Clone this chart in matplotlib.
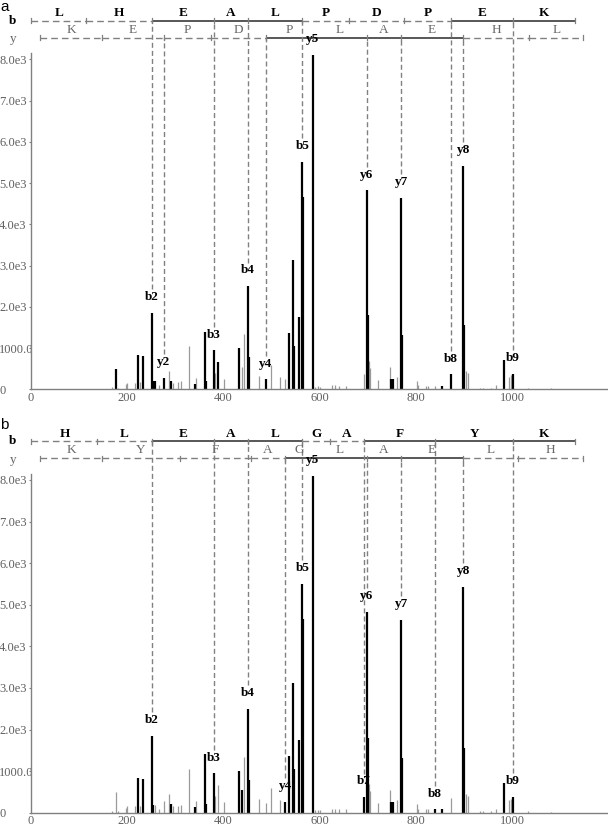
import numpy as np
import matplotlib.pyplot as plt

plt.rcParams['font.family'] = ['Liberation Serif', 'DejaVu Serif']

# one MS/MS spectrum, shown twice with two different peptide assignments
mz = [169.0, 177.6, 181.5, 197.0, 200.3, 215.5, 221.7, 226.6, 232.2, 251.15,
      253.2, 257.8, 266.0, 276.16, 287.0, 291.0, 294.6, 306.0, 311.9, 327.8,
      340.3, 342.4, 361.0, 363.2, 380.19, 382.5, 388.8, 401.2, 433.0, 438.7,
      442.2, 451.23, 452.6, 474.7, 488.24, 498.3, 517.7, 528.28, 535.7, 544.0,
      546.8, 557.2, 564.31, 566.1, 585.29, 591.0, 596.0, 600.0, 626.5, 632.0,
      640.3, 654.2, 692.37, 698.37, 699.6, 702.7, 704.8, 722.0, 747.0, 748.6,
      752.0, 760.3, 769.41, 770.9, 801.9, 805.2, 821.0, 826.0, 839.44, 855.0,
      873.45, 898.47, 899.9, 905.0, 907.9, 933.5, 940.4, 955.7, 966.7, 984.0,
      994.4, 997.3, 1002.49, 1032.7, 1081.0]
intensity = [50, 500, 40, 120, 160, 150, 825, 170, 800, 1850,
             190, 190, 100, 283, 450, 210, 150, 165, 190, 1040,
             135, 280, 1400, 200, 945, 390, 670, 250, 1000, 550,
             1330, 2500, 790, 320, 242, 595, 300, 255, 1360, 3130,
             1060, 1750, 5510, 4650, 8100, 60, 70, 60, 100, 100,
             80, 80, 372, 4824, 1800, 695, 525, 226, 550, 258,
             258, 300, 4638, 1317, 200, 100, 80, 80, 80, 80,
             364, 5422, 1560, 453, 390, 40, 40, 30, 100, 719,
             307, 340, 380, 30, 25]
# 1 = matched peak (drawn black) in panel a / panel b
matched_a = [0, 1, 0, 0, 0, 0, 1, 0, 1, 1,
             1, 1, 0, 1, 0, 1, 0, 0, 0, 0,
             1, 0, 1, 1, 1, 0, 1, 0, 1, 0,
             0, 1, 1, 0, 1, 0, 0, 0, 1, 1,
             1, 1, 1, 1, 1, 0, 0, 0, 0, 0,
             0, 0, 0, 1, 1, 0, 0, 0, 0, 1,
             1, 0, 1, 1, 0, 0, 0, 0, 0, 1,
             1, 1, 1, 0, 0, 0, 0, 0, 0, 1,
             0, 0, 1, 0, 0]
matched_b = [0, 0, 0, 0, 0, 0, 1, 0, 1, 1,
             1, 0, 0, 0, 0, 1, 0, 0, 0, 0,
             1, 0, 1, 1, 1, 0, 0, 0, 1, 1,
             0, 1, 1, 0, 0, 0, 0, 1, 1, 1,
             1, 1, 1, 1, 1, 0, 0, 0, 0, 0,
             0, 0, 1, 1, 1, 0, 0, 0, 0, 1,
             1, 0, 1, 1, 0, 0, 0, 0, 1, 1,
             0, 1, 1, 0, 0, 0, 0, 0, 0, 1,
             0, 0, 1, 0, 0]

# panel a: LHEALPDPEK
b_res_a = ['L', 'H', 'E', 'A', 'L', 'P', 'D', 'P', 'E', 'K']
b_ions_a = [1.01, 114.09, 251.15, 380.19, 451.23, 564.31, 661.37, 776.39, 873.45, 1002.49, 1130.58]
b_solid_a = [0, 0, 1, 1, 1, 0, 0, 0, 1, 1]
y_res_a = ['K', 'E', 'P', 'D', 'P', 'L', 'A', 'E', 'H', 'L']
y_ions_a = [19.02, 147.11, 276.16, 373.21, 488.24, 585.29, 698.37, 769.41, 898.45, 1035.51, 1148.59]
y_solid_a = [0, 0, 0, 0, 1, 1, 1, 1, 0, 0]
labels_a = ['b2', 'y2', 'b3', 'b4', 'y4', 'b5', 'y5', 'y6', 'y7', 'b8', 'y8', 'b9']
label_mz_a = [251.15, 276.16, 380.19, 451.23, 488.24, 564.31, 585.29, 698.37, 769.41, 873.45, 898.47, 1002.49]

# panel b: HLEALGAFYK
b_res_b = ['H', 'L', 'E', 'A', 'L', 'G', 'A', 'F', 'Y', 'K']
b_ions_b = [1.01, 138.07, 251.15, 380.19, 451.23, 564.31, 621.34, 692.37, 839.44, 1002.50, 1130.60]
b_solid_b = [0, 0, 1, 1, 1, 0, 0, 1, 1, 1]
y_res_b = ['K', 'Y', 'F', 'A', 'G', 'L', 'A', 'E', 'L', 'H']
y_ions_b = [19.02, 147.11, 310.18, 457.25, 528.28, 585.30, 698.39, 769.42, 898.47, 1011.55, 1148.61]
y_solid_b = [0, 0, 0, 0, 1, 1, 1, 1, 0, 0]
labels_b = ['b2', 'b3', 'b4', 'y4', 'b5', 'y5', 'b7', 'y6', 'y7', 'b8', 'y8', 'b9']
label_mz_b = [251.15, 380.19, 451.23, 528.28, 564.31, 585.29, 692.37, 698.37, 769.41, 839.44, 898.47, 1002.49]

ytick_vals = [0, 1000, 2000, 3000, 4000, 5000, 6000, 7000, 8000]
ytick_text = ['0', '1000.0', '2.0e3', '3.0e3', '4.0e3', '5.0e3', '6.0e3', '7.0e3', '8.0e3']
xtick_vals = [0, 200, 400, 600, 800, 1000]

GRAY = '#808080'
DARK = '#4a4a4a'
B_LINE, Y_LINE = 8935, 8523
B_TXT, Y_TXT = 9115, 8710


def draw_row(ax, ions, res, solid, ly, ty, color, weight):
    for i in range(len(res)):
        if solid[i]:
            ax.plot([ions[i], ions[i + 1]], [ly, ly], color=DARK, lw=1.3,
                    solid_capstyle='butt', clip_on=False)
        else:
            ax.plot([ions[i], ions[i + 1]], [ly, ly], color=GRAY, lw=1.0,
                    ls=(0, (4.8, 2.9)), clip_on=False)
        ax.text((ions[i] + ions[i + 1]) / 2, ty, res[i], ha='center', va='center',
                fontsize=9.5, color=color, fontweight=weight, clip_on=False)
    for m in ions:
        ax.plot([m, m], [ly - 60, ly + 60], color=GRAY, lw=0.9, clip_on=False)


def draw_panel(ax, matched, b_ions, b_res, b_solid, y_ions, y_res, y_solid, labels, label_mz):
    mzs = np.array(mz)
    inten = np.array(intensity)
    mask = np.array(matched) == 1
    ax.vlines(mzs[~mask], 0, inten[~mask], color='#9a9a9a', lw=0.9)
    ax.vlines(mzs[mask], 0, inten[mask], color='black', lw=1.6)

    draw_row(ax, b_ions, b_res, b_solid, B_LINE, B_TXT, 'black', 'bold')
    draw_row(ax, y_ions, y_res, y_solid, Y_LINE, Y_TXT, '#666666', 'normal')
    ax.text(-38, B_LINE, 'b', ha='center', va='center', fontsize=9.5,
            fontweight='bold', clip_on=False)
    ax.text(-38, Y_LINE - 40, 'y', ha='center', va='center', fontsize=9.5,
            color='#666666', clip_on=False)

    for name, m in zip(labels, label_mz):
        top = inten[np.argmin(np.abs(mzs - m))]
        start = B_LINE if name[0] == 'b' else Y_LINE
        if top + 530 < start:
            ax.plot([m, m], [top + 570, start], color=GRAY, lw=1.0,
                    ls=(0, (3.6, 2.2)), clip_on=False)
        ax.text(m, top + 380, name, ha='center', va='center', fontsize=9.5,
                fontweight='bold', clip_on=False, zorder=5)

    ax.set_xlim(0, 1197.5)
    ax.set_ylim(0, 8150)
    for s in ['top', 'right']:
        ax.spines[s].set_visible(False)
    for s in ['left', 'bottom']:
        ax.spines[s].set_color('#808080')
        ax.spines[s].set_linewidth(1.0)
    ax.set_yticks(ytick_vals)
    ax.set_yticklabels(ytick_text)
    ax.set_xticks(xtick_vals)
    ax.set_xticklabels([str(v) for v in xtick_vals])
    ax.tick_params(axis='y', length=1.5, width=0.8, color='#808080',
                   labelsize=9, labelcolor='#606060', pad=21.5)
    ax.tick_params(axis='x', length=0, labelsize=9, labelcolor='#606060', pad=2)
    for t in ax.get_yticklabels():
        t.set_horizontalalignment('left')


fig = plt.figure(figsize=(6.08, 8.26), dpi=100)
ax_a = fig.add_axes([31 / 608, (826 - 389.3) / 826, 576 / 608, 336.2 / 826])
ax_b = fig.add_axes([31 / 608, (826 - 812.7) / 826, 576 / 608, 339.0 / 826])

draw_panel(ax_a, matched_a, b_ions_a, b_res_a, b_solid_a, y_ions_a, y_res_a, y_solid_a,
           labels_a, label_mz_a)
draw_panel(ax_b, matched_b, b_ions_b, b_res_b, b_solid_b, y_ions_b, y_res_b, y_solid_b,
           labels_b, label_mz_b)

fig.text(0.0, 1.0, 'a', ha='left', va='top', fontsize=11, family='Liberation Sans')
fig.text(0.0, (826 - 418) / 826, 'b', ha='left', va='top', fontsize=11, family='Liberation Sans')

fig.savefig('out.png', dpi=100)
